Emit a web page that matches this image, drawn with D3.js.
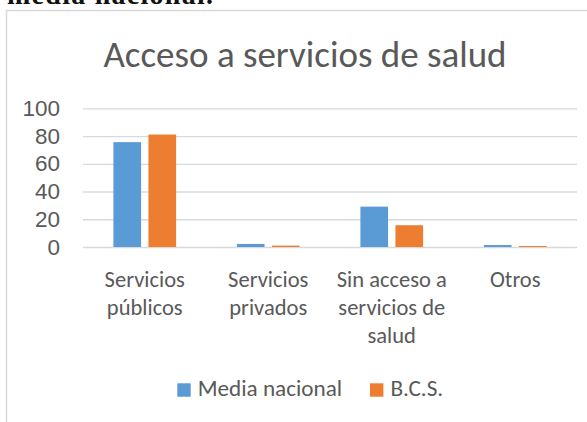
<!DOCTYPE html>
<html lang="es">
<head>
  <meta charset="UTF-8">
  <title>Acceso a servicios de salud</title>
  <script src="https://d3js.org/d3.v7.min.js"></script>
  <style>
    body {
      margin: 0;
      background: #fff;
      overflow: hidden;
    }

    svg {
      display: block;
      font-family: Carlito, Calibri, Lato, sans-serif;
    }

    .grid line {
      stroke: #d9d9d9;
      stroke-width: 1.3px;
    }

    .grid text,
    .cat-label {
      fill: #595959;
      font-size: 22.5px;
    }

    .legend text {
      fill: #595959;
      font-size: 23.2px;
    }

    .title {
      fill: #595959;
      font-size: 37px;
      text-anchor: middle;
    }
  </style>
</head>
<body>

<svg width="587" height="422"></svg>

<script>
  // values
  const categories = ["Servicios públicos", "Servicios privados", "Sin acceso a servicios de salud", "Otros"];
  const categoryLines = [["Servicios", "públicos"], ["Servicios", "privados"], ["Sin acceso a", "servicios de", "salud"], ["Otros"]];
  const seriesNames = ["Media nacional", "B.C.S."];
  const mediaNacional = [75.6, 2.2, 29.1, 1.4];
  const bcs = [81.1, 1.0, 15.7, 0.7];
  const yTicks = [0, 20, 40, 60, 80, 100];

  const colors = {"Media nacional": "#5b9bd5", "B.C.S.": "#ed7d31"};
  const seriesValues = {"Media nacional": mediaNacional, "B.C.S.": bcs};

  const plot = {left: 83, right: 577, top: 108.3, bottom: 247};

  const svg = d3.select("svg");

  // text of the page above the chart, cut off by the crop
  svg.append("text")
    .attr("x", 7)
    .attr("y", 3.5)
    .attr("textLength", 206)
    .attr("font-family", "Liberation Serif, serif")
    .attr("font-weight", "bold")
    .attr("font-size", 28)
    .attr("fill", "#111")
    .text("media nacional.");

  // chart frame
  svg.append("rect")
    .attr("x", 6.5)
    .attr("y", 10.5)
    .attr("width", 700)
    .attr("height", 500)
    .attr("fill", "#fff")
    .attr("stroke", "#d9d9d9")
    .attr("stroke-width", 1.5);

  svg.append("text")
    .attr("class", "title")
    .attr("x", 305)
    .attr("y", 66.5)
    .text("Acceso a servicios de salud");

  const x0 = d3.scaleBand()
    .domain(categories)
    .range([plot.left, plot.right])
    .padding(0);

  const x1 = d3.scaleBand()
    .domain(seriesNames)
    .range([30.4, 93.1])
    .paddingInner(0.21);

  const y = d3.scaleLinear()
    .domain([0, 100])
    .range([plot.bottom, plot.top]);

  // gridlines + y labels
  svg.append("g")
    .attr("class", "grid")
    .attr("transform", `translate(${plot.left},0)`)
    .call(d3.axisLeft(y)
      .tickValues(yTicks)
      .tickSize(-(plot.right - plot.left))
      .tickPadding(23)
      .tickFormat(d3.format("d")))
    .call(g => g.select(".domain").remove())
    .call(g => g.selectAll("text").attr("font-family", null).attr("font-size", null));

  // bars
  const groups = svg.append("g")
    .selectAll("g")
    .data(categories)
    .join("g")
    .attr("transform", d => `translate(${x0(d)},0)`);

  groups.selectAll("rect")
    .data((d, i) => seriesNames.map(s => ({series: s, value: seriesValues[s][i]})))
    .join("rect")
    .attr("x", d => x1(d.series))
    .attr("width", x1.bandwidth())
    .attr("y", d => y(d.value))
    .attr("height", d => y(0) - y(d.value))
    .attr("fill", d => colors[d.series]);

  // category labels
  const labels = svg.append("g")
    .selectAll("text")
    .data(categories)
    .join("text")
    .attr("class", "cat-label")
    .attr("text-anchor", "middle")
    .attr("x", d => x0(d) + x0.bandwidth() / 2)
    .attr("y", 286.5);

  labels.selectAll("tspan")
    .data((d, i) => categoryLines[i])
    .join("tspan")
    .attr("x", function() { return this.parentNode.getAttribute("x"); })
    .attr("dy", (d, i) => i === 0 ? 0 : 28.3)
    .text(d => d);

  // legend
  const legend = svg.append("g")
    .attr("class", "legend")
    .attr("transform", "translate(177.3,383.3)");

  seriesNames.forEach((name, i) => {
    legend.append("rect")
      .attr("x", i * 192.7)
      .attr("y", 0)
      .attr("width", 13.4)
      .attr("height", 13.4)
      .attr("fill", colors[name]);

    legend.append("text")
      .attr("x", i * 192.7 + 20.4)
      .attr("y", 13)
      .text(name);
  });
</script>

</body>
</html>
